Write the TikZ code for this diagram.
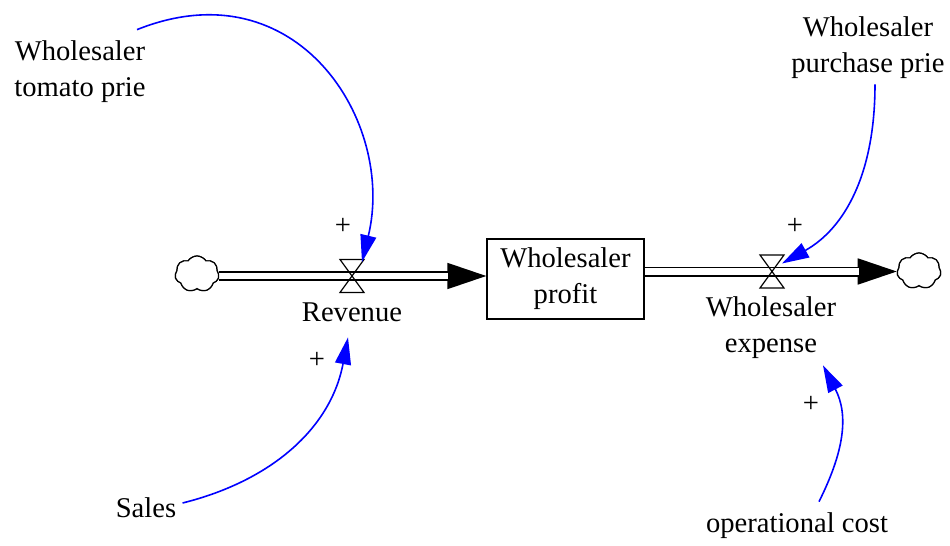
\documentclass[tikz,border=0pt]{standalone}
\usepackage{fontspec}
\setmainfont{Liberation Serif}
\usetikzlibrary{arrows.meta,shapes.symbols,calc}
\definecolor{linkblue}{RGB}{0,0,255}
\tikzset{
  lbl/.style={inner sep=0pt, align=center, font=\fontsize{14.3}{18}\selectfont},
  stock/.style={lbl, draw, line width=0.7pt, minimum width=78.5pt, minimum height=40pt},
  cloudy/.style={cloud, cloud puffs=7, cloud puff arc=115, draw, line width=0.6pt, fill=white,
    minimum width=22pt, minimum height=18pt, inner sep=0pt},
  pipe/.style={double distance=3.3pt, line width=0.85pt},
  flowtip/.style={line width=0.85pt, -{Triangle[length=19.5pt,width=13pt]}},
  valve/.style={line width=0.6pt},
  link/.style={linkblue, line width=0.8pt, -{Triangle[length=13.5pt,width=8pt]}},
}
\newcommand{\drawvalve}[1]{\draw[valve] ($(#1)+(-12,-16.5)$) -- ++(24,0) -- ++(-24,33) -- ++(24,0) -- cycle;}

\begin{document}
\begin{tikzpicture}[x=0.5pt,y=-0.5pt]
\useasboundingbox (0,0) rectangle (950,546);
\node[stock] (profit) at (565.5,279) {Wholesaler\\profit};
\coordinate (revvalve) at (352,276);
\coordinate (expvalve) at (772,271.5);
\node[cloudy] (srccloud) at (197,274) {};
\node[cloudy] (sinkcloud) at (919,271) {};

\draw[flowtip] (revvalve) -- (profit.west |- revvalve);
\draw[pipe, shorten >=19pt] (srccloud.east |- revvalve) -- (profit.west |- revvalve);
\draw[flowtip] (expvalve) -- (sinkcloud.west |- expvalve);
\draw[pipe, shorten >=19pt] (profit.east |- expvalve) -- (sinkcloud.west |- expvalve);
\drawvalve{revvalve}
\drawvalve{expvalve}
\node[cloudy] at (srccloud) {};
\node[cloudy] at (sinkcloud) {};

\node[lbl] (revenue) at (352,312) {Revenue};
\node[lbl] (expense) at (771,328) {Wholesaler\\expense};
\node[lbl] (tomato) at (80,72) {Wholesaler\\tomato prie};
\node[lbl] (purchase) at (868,48) {Wholesaler\\purchase prie};
\node[lbl] (sales) at (146,508) {Sales};
\node[lbl] (opcost) at (797,526) {operational cost};

\node[lbl] (plusa) at (343,226) {+};
\node[lbl] (plusb) at (795,226) {+};
\node[lbl] (plusc) at (317,360) {+};
\node[lbl] (plusd) at (811,404) {+};

\draw[link] ($(tomato.north)+(57,-11)$) .. controls +(160,-64) and +(34,-140) .. ($(revvalve)+(10,-14)$);
\draw[link] ($(purchase.south)+(7,5)$) .. controls +(0,90) and +(62.5,-35) .. ($(expvalve)+(10,-8)$);
\draw[link] ($(sales.east)+(6,-5)$) .. controls +(90,-22.5) and +(-17,90) .. ($(revenue.south)+(-4,15.5)$);
\draw[link] ($(opcost.north)+(22,-11)$) .. controls +(25,-50) and +(26,50) .. ($(expense.south)+(52,6)$);
\end{tikzpicture}
\end{document}
